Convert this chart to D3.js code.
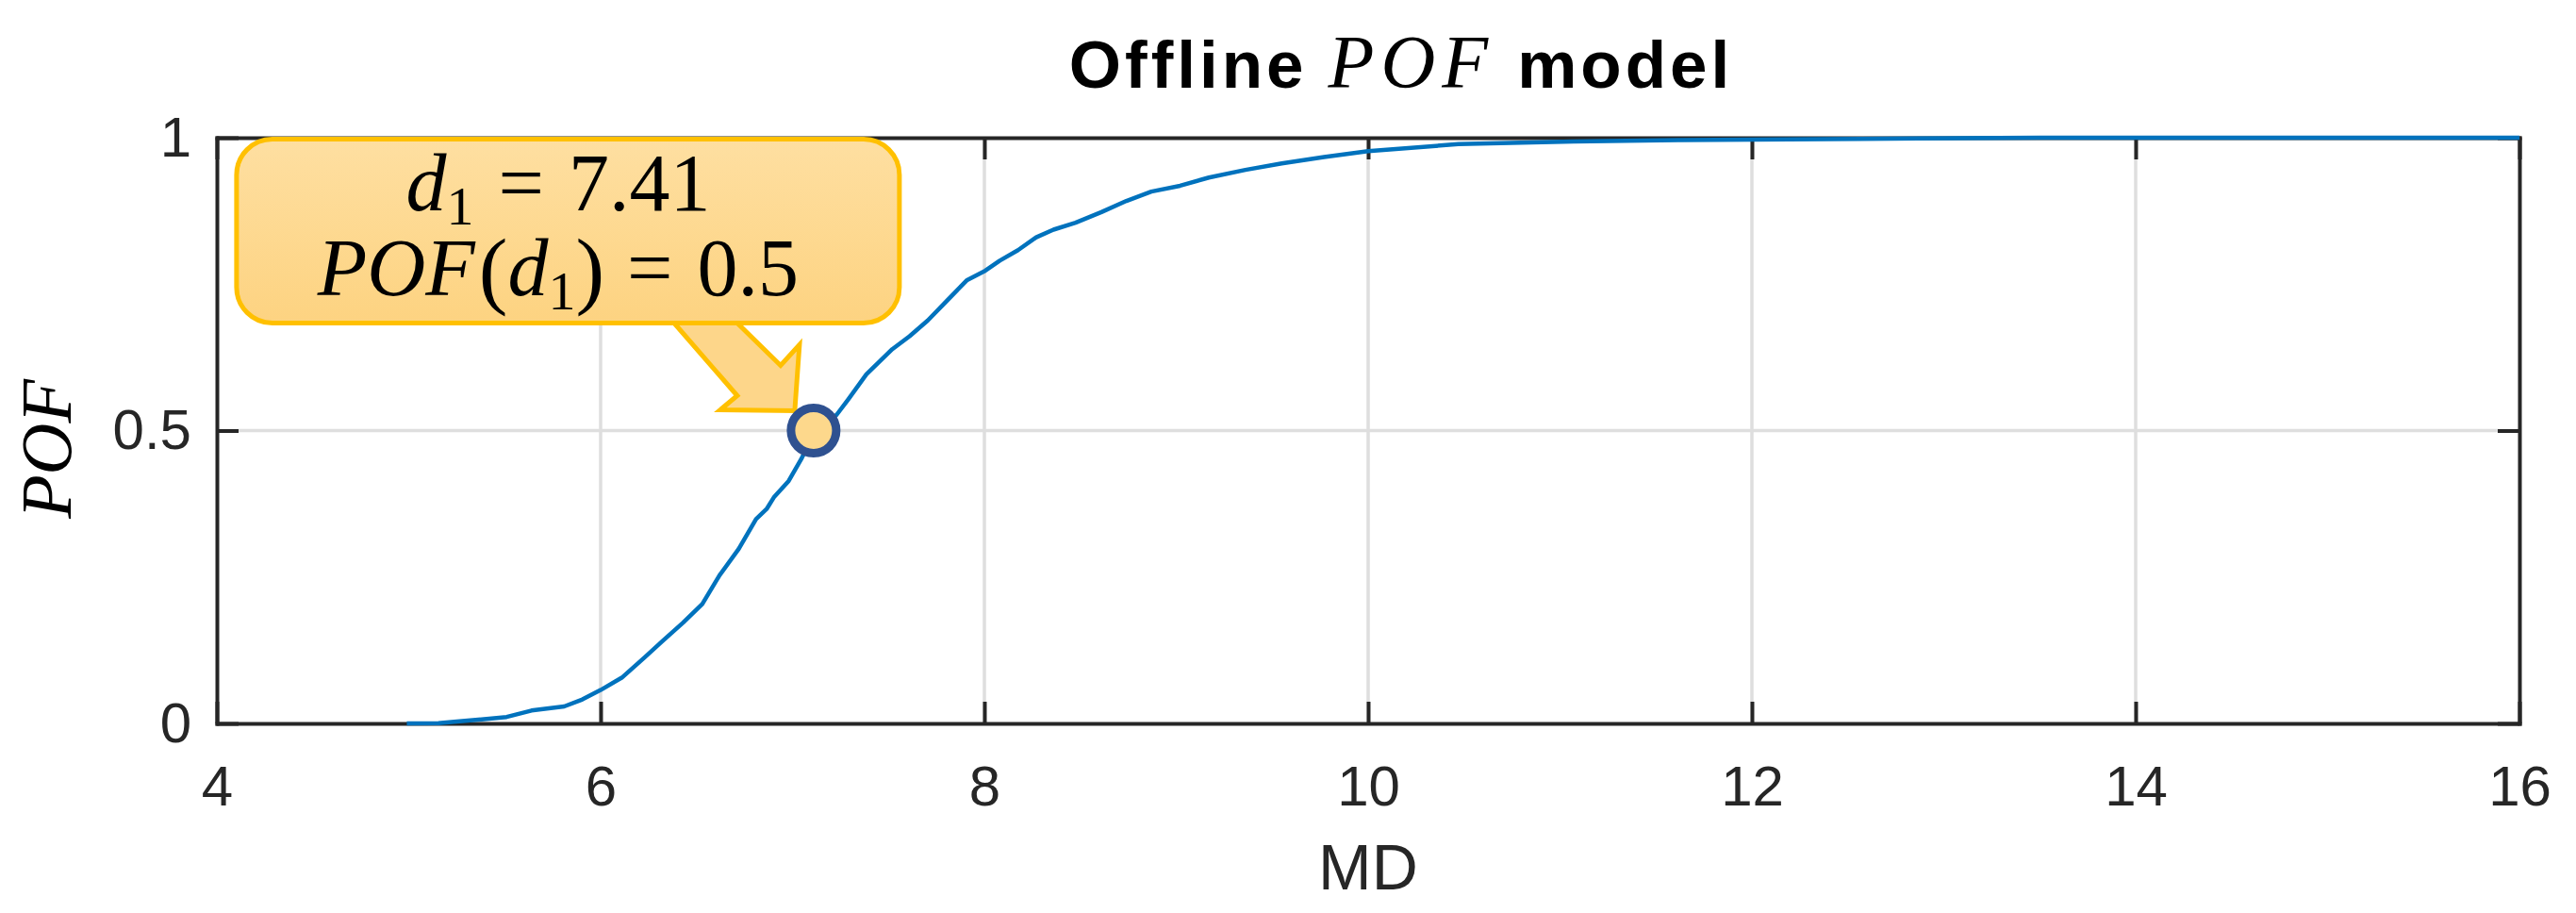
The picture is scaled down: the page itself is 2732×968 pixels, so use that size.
<!DOCTYPE html>
<html>
<head>
<meta charset="utf-8">
<script src="https://cdn.jsdelivr.net/npm/d3@7"></script>
<style>
    body { margin: 0; background: #fff; }
    svg  { display: block; }
</style>
</head>
<body>
<svg id="chart" width="2732" height="968"></svg>
<script>
const md  = [4.99, 5.155, 5.38, 5.51, 5.64, 5.81, 5.905, 6.0, 6.11, 6.23, 6.32, 6.43, 6.53, 6.62,
             6.72, 6.81, 6.865, 6.905, 6.98, 7.045, 7.11, 7.23, 7.29, 7.385, 7.52, 7.61, 7.705,
             7.80, 7.91, 8.005, 8.08, 8.175, 8.27, 8.36, 8.475, 8.61, 8.74, 8.87, 9.02, 9.17,
             9.36, 9.55, 9.77, 10.0, 10.47, 11.07, 11.63, 12.57, 13.5, 16.0]
const pof = [0, 0.0005, 0.007, 0.011, 0.022, 0.029, 0.041, 0.057, 0.078, 0.113, 0.14, 0.172, 0.204, 0.253,
             0.298, 0.349, 0.366, 0.387, 0.414, 0.451, 0.494, 0.527, 0.553, 0.596, 0.639, 0.661, 0.688,
             0.72, 0.757, 0.773, 0.79, 0.808, 0.83, 0.843, 0.855, 0.873, 0.892, 0.908, 0.918, 0.932,
             0.945, 0.956, 0.967, 0.977, 0.989, 0.9936, 0.996, 0.998, 1.0, 1.0]

const xTicks      = [4, 6, 8, 10, 12, 14, 16]
const yTicks      = [0, 0.5, 1]
const yTickLabels = ['0', '0.5', '1']

// highlighted point and its callout
const markX = 7.11
const markY = 0.5
const noteD1  = '7.41'
const notePOF = '0.5'

const W = 2732, H = 968
const margin = { top: 146, right: 60, bottom: 201, left: 230 }
const axisColor = '#262626'

const svg = d3.select('#chart')

const x = d3.scaleLinear().domain([4, 16]).range([margin.left, W - margin.right])
const y = d3.scaleLinear().domain([0, 1]).range([H - margin.bottom, margin.top])

// grid
const grid = svg.append('g').attr('stroke', '#dedede').attr('stroke-width', 3.5)
grid.selectAll('.gx').data(xTicks.slice(1, -1)).enter().append('line')
    .attr('x1', d => x(d)).attr('x2', d => x(d))
    .attr('y1', y(0)).attr('y2', y(1))
grid.selectAll('.gy').data(yTicks.slice(1, -1)).enter().append('line')
    .attr('x1', x(4)).attr('x2', x(16))
    .attr('y1', d => y(d)).attr('y2', d => y(d))

// axes, ticks inside on all four sides
const styleAxis = g => {
    g.select('.domain').attr('stroke', axisColor).attr('stroke-width', 4).attr('stroke-linecap', 'square')
    g.selectAll('.tick line').attr('stroke', axisColor).attr('stroke-width', 4)
    g.selectAll('.tick text')
        .attr('fill', axisColor)
        .style('font-family', '"Liberation Sans", Arial, sans-serif')
        .style('font-size', '60px')
}

svg.append('g')
    .attr('transform', `translate(0,${y(0)})`)
    .call(d3.axisBottom(x).tickValues(xTicks).tickSizeInner(-23).tickSizeOuter(0).tickPadding(44))
    .call(styleAxis)

svg.append('g')
    .attr('transform', `translate(0,${y(1)})`)
    .call(d3.axisTop(x).tickValues(xTicks).tickSizeInner(-23).tickSizeOuter(0).tickFormat(''))
    .call(styleAxis)

svg.append('g')
    .attr('transform', `translate(${x(4)},0)`)
    .call(d3.axisLeft(y).tickValues(yTicks).tickSizeInner(-23).tickSizeOuter(0).tickPadding(27)
        .tickFormat((d, i) => yTickLabels[i]))
    .call(styleAxis)

svg.append('g')
    .attr('transform', `translate(${x(16)},0)`)
    .call(d3.axisRight(y).tickValues(yTicks).tickSizeInner(-23).tickSizeOuter(0).tickFormat(''))
    .call(styleAxis)

// curve
const line = d3.line().x(d => x(d[0])).y(d => y(d[1]))
svg.append('path')
    .datum(d3.zip(md, pof))
    .attr('fill', 'none')
    .attr('stroke', '#0072bd')
    .attr('stroke-width', 4.5)
    .attr('stroke-linejoin', 'round')
    .attr('d', line)

// labels
svg.append('text')
    .attr('x', x(10)).attr('y', 943)
    .attr('text-anchor', 'middle')
    .attr('fill', axisColor)
    .style('font-family', '"Liberation Sans", Arial, sans-serif')
    .style('font-size', '68px')
    .text('MD')

svg.append('text')
    .attr('transform', `translate(75,476) rotate(-90)`)
    .attr('text-anchor', 'middle')
    .attr('fill', '#000')
    .style('font-family', '"Liberation Serif", serif')
    .style('font-style', 'italic')
    .style('font-size', '76px')
    .text('POF')

const title = svg.append('text')
    .attr('x', 1486).attr('y', 93)
    .attr('text-anchor', 'middle')
    .attr('fill', '#000')
    .style('font-family', '"Liberation Sans", Arial, sans-serif')
    .style('font-weight', 'bold')
    .style('font-size', '71px')
    .style('letter-spacing', '4px')
title.append('tspan').text('Offline')
title.append('tspan').attr('dx', 22)
    .style('font-family', '"Liberation Serif", serif')
    .style('font-style', 'italic').style('font-weight', 'normal')
    .style('font-size', '80px').style('letter-spacing', '7px')
    .text('POF')
title.append('tspan').attr('dx', 24).text('model')

// callout
const mx = x(markX), my = y(markY)
const defs = svg.append('defs')
const grad = defs.append('linearGradient').attr('id', 'boxFill')
    .attr('x1', 0).attr('y1', 0).attr('x2', 0).attr('y2', 1)
grad.append('stop').attr('offset', '0%').attr('stop-color', '#fedfa1')
grad.append('stop').attr('offset', '100%').attr('stop-color', '#fdd381')

const note = svg.append('g').attr('transform', `translate(${mx},${my})`)

// arrow offsets from the marker
const arrow = [[-148, -114], [-81, -114], [-35, -69], [-15, -91], [-20, -21], [-99, -22], [-81, -37]]
note.append('path')
    .attr('d', 'M' + arrow.join('L') + 'Z')
    .attr('fill', '#fdd68a')
    .attr('stroke', '#ffc000')
    .attr('stroke-width', 5)
    .attr('stroke-linejoin', 'miter')

note.append('rect')
    .attr('x', -612).attr('y', -309)
    .attr('width', 703).attr('height', 195)
    .attr('rx', 38).attr('ry', 38)
    .attr('fill', 'url(#boxFill)')
    .attr('stroke', '#ffc000')
    .attr('stroke-width', 5)

const mathFont = t => t
    .attr('text-anchor', 'middle')
    .attr('fill', '#000')
    .style('font-family', '"Liberation Serif", serif')
    .style('font-size', '86px')

const l1 = note.append('text').attr('x', -271).attr('y', -234).call(mathFont)
l1.append('tspan').style('font-style', 'italic').text('d')
l1.append('tspan').attr('dy', 15).style('font-size', '58px').text('1')
l1.append('tspan').attr('dy', -15).attr('dx', 26).text('=')
l1.append('tspan').attr('dx', 26).text(noteD1)

const l2 = note.append('text').attr('x', -271).attr('y', -144).call(mathFont)
l2.append('tspan').style('font-style', 'italic').text('POF')
l2.append('tspan').attr('dx', 4).style('font-size', '92px').attr('dy', 3).text('(')
l2.append('tspan').attr('dy', -3).style('font-style', 'italic').text('d')
l2.append('tspan').attr('dy', 15).style('font-size', '58px').text('1')
l2.append('tspan').attr('dy', -12).style('font-size', '92px').text(')')
l2.append('tspan').attr('dy', -3).attr('dx', 24).text('=')
l2.append('tspan').attr('dx', 26).text(notePOF)

// marker
svg.append('circle')
    .attr('cx', mx).attr('cy', my)
    .attr('r', 24)
    .attr('fill', '#fdd88c')
    .attr('stroke', '#2f5190')
    .attr('stroke-width', 9)
</script>
</body>
</html>
